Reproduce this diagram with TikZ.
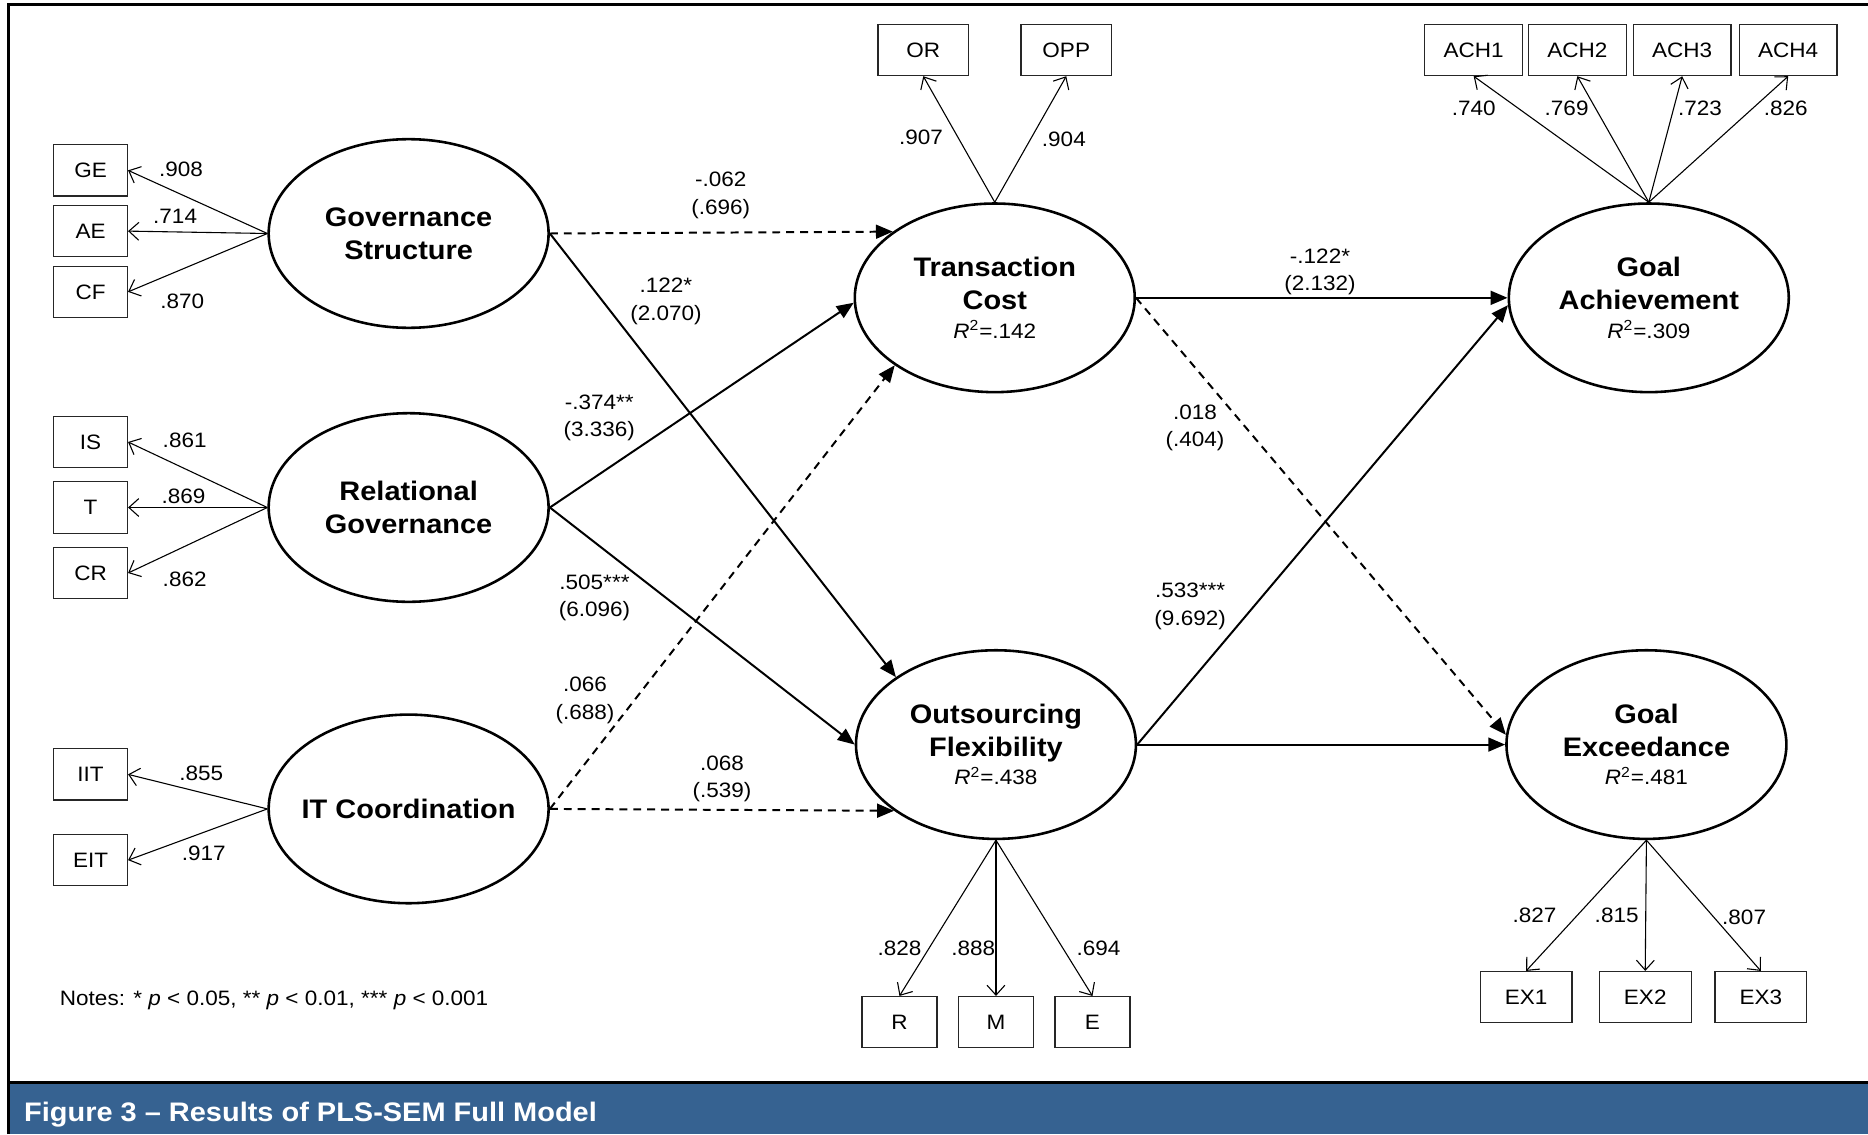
\documentclass[tikz,border=0pt]{standalone}
\usepackage{fontspec}
\setmainfont{Liberation Sans}[FakeStretch=1.08]
\usetikzlibrary{arrows.meta,shapes.geometric,positioning}
\definecolor{capblue}{RGB}{54,98,145}

\begin{document}
\begin{tikzpicture}[x=0.6pt,y=-0.6pt,% styles used all over the model
		latent/.style={
			ellipse,draw,line width=1.3pt,
			minimum width=141pt,minimum height=95pt,inner sep=0pt,
			align=center,		% so that "\\" breaks the line
			font=\fontsize{13.5}{16.5}\selectfont\bfseries
		},
		item/.style={rectangle,draw=black!85,line width=0.6pt,minimum width=37.2pt,minimum height=25.8pt,inner sep=0pt,font=\fontsize{10.5}{12}\selectfont},
		coef/.style={align=center,inner sep=0pt,font=\fontsize{10.5}{13.8}\selectfont},
		load/.style={draw,line width=0.55pt,-{Straight Barb[length=5pt,width=9pt]}},
		sig/.style={draw,line width=1pt,-{Triangle[length=8.5pt,width=7pt]}},
		nonsig/.style={sig,dash pattern=on 4pt off 3pt}
	]
	\useasboundingbox (0,0) rectangle (1568,952);
	% frame and caption bar
	\fill[capblue] (7.5,909) rectangle (1568,952);
	\draw[line width=1.5pt] (7.5,952) -- (7.5,4) -- (1568,4);
	\draw[line width=1.5pt] (7.5,909) -- (1568,909);
	\node[anchor=base west,text=white,inner sep=0pt,font=\fontsize{13.5}{16}\selectfont\bfseries](caption) at (20,941){Figure 3 -- Results of PLS-SEM Full Model};

	% latent variables
	\node[latent](GS) at (343,196){Governance\\Structure};
	\node[latent](RG) at (343,426){Relational\\Governance};
	\node[latent,inner xsep=-8pt](ITC) at (343,679){IT Coordination};
	\node[latent](TC) at (835,250){Transaction\\Cost\\[-2pt]{\mdseries\fontsize{10.5}{12}\selectfont\textit{R}\textsuperscript{2}=.142}};
	\node[latent](OF) at (836,625){Outsourcing\\Flexibility\\[-2pt]{\mdseries\fontsize{10.5}{12}\selectfont\textit{R}\textsuperscript{2}=.438}};
	\node[latent](GA) at (1384,250){Goal\\Achievement\\[-2pt]{\mdseries\fontsize{10.5}{12}\selectfont\textit{R}\textsuperscript{2}=.309}};
	\node[latent](GX) at (1382,625){Goal\\Exceedance\\[-2pt]{\mdseries\fontsize{10.5}{12}\selectfont\textit{R}\textsuperscript{2}=.481}};

	% indicators
	\node[item](GE) at (76,143){GE};
	\node[item](AE) at (76,194){AE};
	\node[item](CF) at (76,245){CF};
	\node[item](IS) at (76,371){IS};
	\node[item](T) at (76,426){T};
	\node[item](CR) at (76,481){CR};
	\node[item](IIT) at (76,650){IIT};
	\node[item](EIT) at (76,722){EIT};
	\node[item,minimum width=45.6pt](OR) at (775,42){OR};
	\node[item,minimum width=45.6pt](OPP) at (895,42){OPP};
	\node[item,minimum width=49.2pt](ACH1) at (1237,42){ACH1};
	\node[item,minimum width=49.2pt](ACH2) at (1324,42){ACH2};
	\node[item,minimum width=49.2pt](ACH3) at (1412,42){ACH3};
	\node[item,minimum width=49.2pt](ACH4) at (1501,42){ACH4};
	\node[item,minimum width=37.8pt](R) at (755,858){R};
	\node[item,minimum width=37.8pt](M) at (836,858){M};
	\node[item,minimum width=37.8pt](E) at (917,858){E};
	\node[item,minimum width=46.2pt](EX1) at (1281,837){EX1};
	\node[item,minimum width=46.2pt](EX2) at (1381,837){EX2};
	\node[item,minimum width=46.2pt](EX3) at (1478,837){EX3};

	% outer loadings
	\path
	(GS.west) edge[load] (GE.east)
	(GS.west) edge[load] (AE.east)
	(GS.west) edge[load] (CF.east)
	(RG.west) edge[load] (IS.east)
	(RG.west) edge[load] (T.east)
	(RG.west) edge[load] (CR.east)
	(ITC.west) edge[load] (IIT.east)
	(ITC.west) edge[load] (EIT.east)
	(TC.north) edge[load] (OR.south)
	(TC.north) edge[load] (OPP.south)
	(GA.north) edge[load] (ACH1.south)
	(GA.north) edge[load] (ACH2.south)
	(GA.north) edge[load] (ACH3.south)
	(GA.north) edge[load] (ACH4.south)
	(OF.south) edge[load] (R.north)
	(OF.south) edge[load] (M.north)
	(OF.south) edge[load] (E.north)
	(GX.south) edge[load] (EX1.north)
	(GX.south) edge[load] (EX2.north)
	(GX.south) edge[load] (EX3.north)
	;
	\node[coef](lGE) at (152,142){.908};
	\node[coef](lAE) at (147,182){.714};
	\node[coef](lCF) at (153,253){.870};
	\node[coef](lIS) at (155,370){.861};
	\node[coef](lT) at (154,417){.869};
	\node[coef](lCR) at (155,486){.862};
	\node[coef](lIIT) at (169,649){.855};
	\node[coef](lEIT) at (171,716){.917};
	\node[coef](lOR) at (773,115){.907};
	\node[coef](lOPP) at (893,117){.904};
	\node[coef](lACH1) at (1237,91){.740};
	\node[coef](lACH2) at (1315,91){.769};
	\node[coef](lACH3) at (1427,91){.723};
	\node[coef](lACH4) at (1499,91){.826};
	\node[coef](lR) at (755,796){.828};
	\node[coef](lM) at (817,796){.888};
	\node[coef](lE) at (922,796){.694};
	\node[coef](lEX1) at (1288,768){.827};
	\node[coef](lEX2) at (1357,768){.815};
	\node[coef](lEX3) at (1464,770){.807};

	% structural paths
	\path
	(GS.east) edge[nonsig] (TC.147)
	(GS.east) edge[sig] (OF.146)
	(RG.east) edge[sig] (TC.182)
	(RG.east) edge[sig] (OF.west)
	(ITC.east) edge[nonsig] (TC.214)
	(ITC.east) edge[nonsig] (OF.213)
	(TC.east) edge[sig] (GA.west)
	(TC.east) edge[nonsig] (GX.176)
	(OF.east) edge[sig] (GA.183)
	(OF.east) edge[sig] (GX.west)
	;
	\node[coef](cGSTC) at (605,164){-.062\\(.696)};
	\node[coef](cGSOF) at (559,253){.122*\\(2.070)};
	\node[coef](cRGTC) at (503,351){-.374**\\(3.336)};
	\node[coef](cRGOF) at (499,502){.505***\\(6.096)};
	\node[coef](cITTC) at (491,588){.066\\(.688)};
	\node[coef](cITOF) at (606,654){.068\\(.539)};
	\node[coef](cTCGA) at (1108,228){-.122*\\(2.132)};
	\node[coef](cTCGX) at (1003,359){.018\\(.404)};
	\node[coef](cOFGA) at (999,509){.533***\\(9.692)};

	\node[anchor=base west,inner sep=0pt,font=\fontsize{10.5}{12}\selectfont](notes) at (50,844){Notes: * \textit{p} < 0.05, ** \textit{p} < 0.01, *** \textit{p} < 0.001};
\end{tikzpicture}
\end{document}
